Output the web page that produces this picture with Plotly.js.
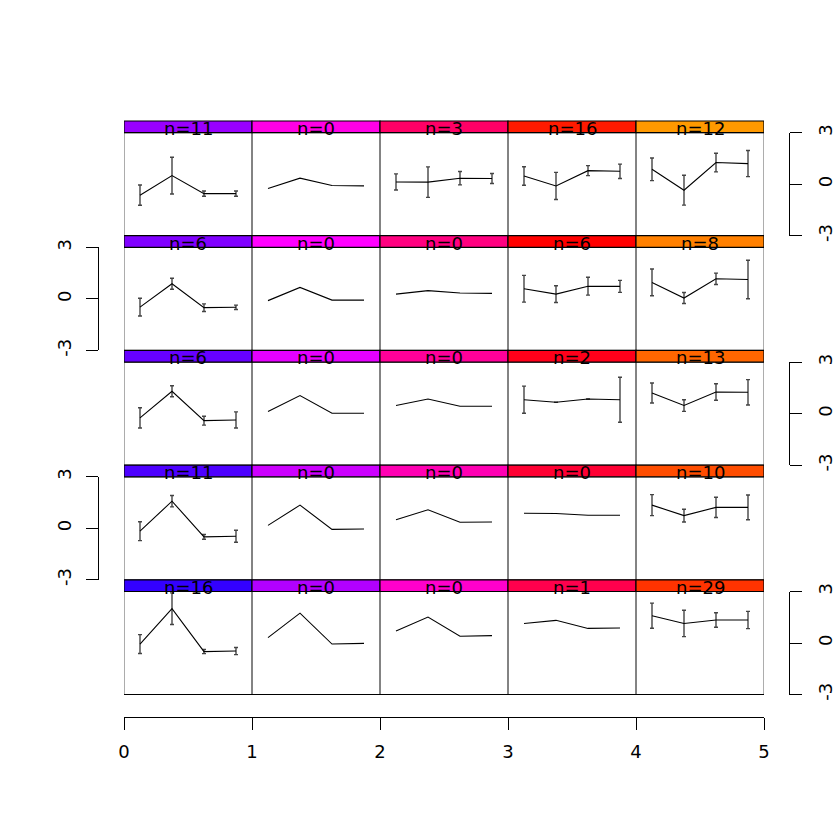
<!DOCTYPE html>
<html>
<head>
<meta charset="utf-8">
<script src="https://cdn.plot.ly/plotly-3.0.1.min.js"></script>
<style>html,body{margin:0;padding:0;background:#fff;}#chart{width:840px;height:840px;}</style>
</head>
<body>
<div id="chart"></div>
<script>
// ---- data (rows listed top to bottom, columns left to right) ----
const offsets = [0.125, 0.375, 0.625, 0.875];
const counts = [
  [11, 0, 3, 16, 12],
  [6, 0, 0, 6, 8],
  [6, 0, 0, 2, 13],
  [11, 0, 0, 0, 10],
  [16, 0, 0, 1, 29]
];
const row1Means = [
  [-0.64, 0.50, -0.55, -0.55],
  [-0.25, 0.35, -0.08, -0.10],
  [0.13, 0.12, 0.35, 0.33],
  [0.48, -0.10, 0.79, 0.75],
  [0.87, -0.35, 1.26, 1.20]
];
const row1Err = [
  [0.59, 1.07, 0.15, 0.15],
  null,
  [0.47, 0.89, 0.39, 0.29],
  [0.54, 0.79, 0.29, 0.42],
  [0.66, 0.87, 0.54, 0.76]
];
const row2Means = [
  [-0.48, 0.88, -0.51, -0.49],
  [-0.10, 0.67, -0.07, -0.07],
  [0.28, 0.48, 0.34, 0.32],
  [0.59, 0.28, 0.74, 0.73],
  [0.96, 0.05, 1.17, 1.13]
];
const row2Err = [
  [0.52, 0.32, 0.22, 0.13],
  null,
  null,
  [0.78, 0.49, 0.52, 0.35],
  [0.78, 0.32, 0.33, 1.12]
];
const row3Means = [
  [-0.25, 1.30, -0.41, -0.37],
  [0.12, 1.05, 0.02, 0.02],
  [0.47, 0.85, 0.43, 0.43],
  [0.81, 0.66, 0.85, 0.81],
  [1.20, 0.47, 1.26, 1.24]
];
const row3Err = [
  [0.59, 0.32, 0.26, 0.47],
  null,
  null,
  [0.79, 0, 0, 1.31],
  [0.58, 0.34, 0.48, 0.74]
];
const row4Means = [
  [-0.17, 1.58, -0.50, -0.46],
  [0.17, 1.35, -0.06, -0.04],
  [0.50, 1.08, 0.35, 0.37],
  [0.88, 0.86, 0.76, 0.76],
  [1.35, 0.74, 1.22, 1.22]
];
const row4Err = [
  [0.55, 0.33, 0.14, 0.35],
  null,
  null,
  null,
  [0.61, 0.37, 0.59, 0.72]
];
const row5Means = [
  [-0.06, 2.00, -0.50, -0.47],
  [0.31, 1.74, -0.06, -0.02],
  [0.70, 1.51, 0.39, 0.43],
  [1.14, 1.32, 0.85, 0.87],
  [1.59, 1.14, 1.34, 1.34]
];
const row5Err = [
  [0.55, 0.92, 0.12, 0.21],
  null,
  null,
  null,
  [0.73, 0.77, 0.42, 0.50]
];
const xTicks = [0, 1, 2, 3, 4, 5];
const yTicks = [-3, 0, 3];

// ---- styles ----
const headerColors = [
  ['#9900FF', '#FF00E6', '#FF0066', '#FF1A00', '#FF9900'],
  ['#8000FF', '#FF00FF', '#FF0080', '#FF0000', '#FF8000'],
  ['#6600FF', '#E500FF', '#FF0099', '#FF001A', '#FF6600'],
  ['#4D00FF', '#CC00FF', '#FF00B3', '#FF0033', '#FF4D00'],
  ['#3300FF', '#B200FF', '#FF00CC', '#FF004D', '#FF3300']
];
const axisSide = ['right', 'left', 'right', 'left', 'right'];

const allMeans = [row1Means, row2Means, row3Means, row4Means, row5Means];
const allErr = [row1Err, row2Err, row3Err, row4Err, row5Err];

// ---- geometry (pixels -> paper) ----
const W = 840, Hpx = 840;
const L = 40, R = 10, T = 121, B = 123;
const PW = W - L - R, PH = Hpx - T - B;
const px = p => (p - L) / PW;
const py = p => (Hpx - B - p) / PH;
const rowPitch = 114.7, headerH = 11.7;
const rowTop = r => T + r * rowPitch;
const panelTop = r => rowTop(r) + headerH;
const panelBot = r => rowTop(r) + rowPitch;

const font = 'DejaVu Sans, sans-serif';
const traces = [];
const shapes = [];
const annotations = [];
const layout = {
  width: 840, height: 840,
  margin: {l: L, r: R, t: T, b: B, pad: 0},
  paper_bgcolor: '#fff', plot_bgcolor: 'rgba(0,0,0,0)',
  showlegend: false,
  font: {family: font, size: 18, color: '#000'},
  xaxis: {
    domain: [px(124), px(764)], range: [0, 5], anchor: 'free', position: 0,
    tickvals: xTicks, ticktext: xTicks.map(String),
    ticks: 'outside', ticklen: 12, tickwidth: 1, tickcolor: '#000',
    showline: true, linecolor: '#000', linewidth: 1,
    showgrid: false, zeroline: false, fixedrange: true,
    tickfont: {family: font, size: 18, color: '#000'}, ticklabelstandoff: 6
  }
};

for (let r = 0; r < 5; r++) {
  const yname = r === 0 ? 'yaxis' : 'yaxis' + (r + 1);
  const yref = r === 0 ? 'y' : 'y' + (r + 1);
  const show = (r % 2 === 0) ? true : true;
  layout[yname] = {
    domain: [py(panelBot(r)), py(panelTop(r))],
    range: [-3, 3], anchor: 'free',
    position: axisSide[r] === 'left' ? px(98) : px(789),
    side: axisSide[r],
    tickvals: yTicks, ticktext: yTicks.map(String),
    ticks: 'outside', ticklen: 12, tickwidth: 1, tickcolor: '#000',
    showline: true, linecolor: '#000', linewidth: 1,
    tickangle: -90, showgrid: false, zeroline: false, fixedrange: true,
    tickfont: {family: font, size: 18, color: '#000'}, ticklabelstandoff: 8
  };
  for (let c = 0; c < 5; c++) {
    const err = allErr[r][c];
    const tr = {
      type: 'scatter', mode: 'lines',
      x: offsets.map(o => c + o), y: allMeans[r][c],
      xaxis: 'x', yaxis: yref,
      line: {color: '#000', width: 1.1},
      hoverinfo: 'skip'
    };
    if (err) {
      tr.error_y = {type: 'data', array: err, visible: true, color: '#444', thickness: 1.4, width: 2};
    }
    traces.push(tr);
    // panel box
    shapes.push({type: 'rect', xref: 'x', yref: 'paper', x0: c, x1: c + 1,
      y0: py(panelBot(r)), y1: py(panelTop(r)), line: {color: '#5a5a5a', width: 1}, layer: 'below'});
    // header strip
    shapes.push({type: 'rect', xref: 'x', yref: 'paper', x0: c, x1: c + 1,
      y0: py(panelTop(r)), y1: py(rowTop(r)), fillcolor: headerColors[r][c],
      line: {color: '#000', width: 1.2}, layer: 'above'});
    annotations.push({xref: 'x', yref: 'paper', x: c + 0.5, y: py(rowTop(r) + 7.3),
      text: 'n=' + counts[r][c], showarrow: false, xanchor: 'center', yanchor: 'middle',
      font: {family: font, size: 18, color: '#000'}});
  }
}
// bottom border of last row
shapes.push({type: 'line', xref: 'x', yref: 'paper', x0: 0, x1: 5,
  y0: py(panelBot(4)), y1: py(panelBot(4)), line: {color: '#000', width: 1.2}});

layout.shapes = shapes;
layout.annotations = annotations;
Plotly.newPlot('chart', traces, layout, {staticPlot: true, displayModeBar: false});
</script>
</body>
</html>
